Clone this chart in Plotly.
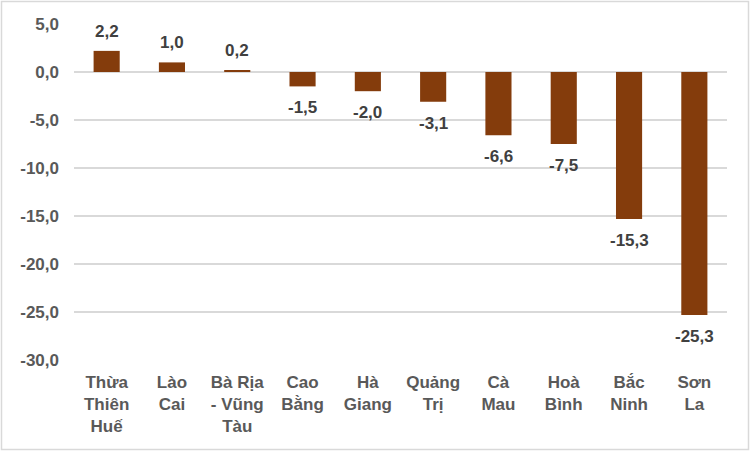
import plotly.graph_objects as go

categories = ["Thừa<br>Thiên<br>Huế", "Lào<br>Cai", "Bà Rịa<br>- Vũng<br>Tàu", "Cao<br>Bằng",
              "Hà<br>Giang", "Quảng<br>Trị", "Cà<br>Mau", "Hoà<br>Bình", "Bắc<br>Ninh", "Sơn<br>La"]
values = [2.2, 1.0, 0.2, -1.5, -2.0, -3.1, -6.6, -7.5, -15.3, -25.3]
tick_vals = [5, 0, -5, -10, -15, -20, -25, -30]
tick_text = ["5,0", "0,0", "-5,0", "-10,0", "-15,0", "-20,0", "-25,0", "-30,0"]

labels = [f"{v:.1f}".replace(".", ",") for v in values]

W, H = 752, 452
L, R, T, B = 74, 25, 24, 92
FS = 17
FONT = "Liberation Sans, Arial"

fig = go.Figure(go.Bar(
    x=categories, y=values, marker_color="#843C0C", marker_line_width=0,
))

for c, v, t in zip(categories, values, labels):
    fig.add_annotation(x=c, y=v, text=t, showarrow=False,
                       yanchor="bottom" if v >= 0 else "top",
                       yshift=8 if v >= 0 else -10,
                       font=dict(family=FONT, size=FS, color="#404040", weight="bold"))

pw, ph = W - L - R, H - T - B
def px_x(p): return (p - L) / pw
def px_y(p): return (H - B - p) / ph

fig.add_shape(type="rect", xref="paper", yref="paper",
              x0=px_x(1.5), x1=px_x(748.5), y0=px_y(449.5), y1=px_y(1.5),
              line=dict(color="#d9d9d9", width=1.5), layer="below")

fig.update_layout(
    width=W, height=H, margin=dict(l=L, r=R, t=T, b=B, autoexpand=False),
    paper_bgcolor="white", plot_bgcolor="white",
    bargap=0.6, showlegend=False,
    font=dict(family=FONT, size=FS, color="#595959"),
)
fig.update_xaxes(showgrid=False, showline=False, zeroline=False, ticks="",
                 tickfont=dict(size=FS, color="#595959", weight="bold"),
                 ticklabelstandoff=10, automargin=False, fixedrange=True)
fig.update_yaxes(range=[-30, 5], tickvals=tick_vals, ticktext=tick_text,
                 showgrid=True, gridcolor="#d9d9d9", gridwidth=1.5,
                 zeroline=True, zerolinecolor="#d9d9d9", zerolinewidth=1.5,
                 showline=False, ticks="", automargin=False,
                 tickfont=dict(size=FS, color="#595959", weight="bold"),
                 ticklabelstandoff=14)

fig.write_html("out.html", config={"displayModeBar": False},
               post_script="document.body.style.margin='0';document.body.style.overflow='hidden';")
